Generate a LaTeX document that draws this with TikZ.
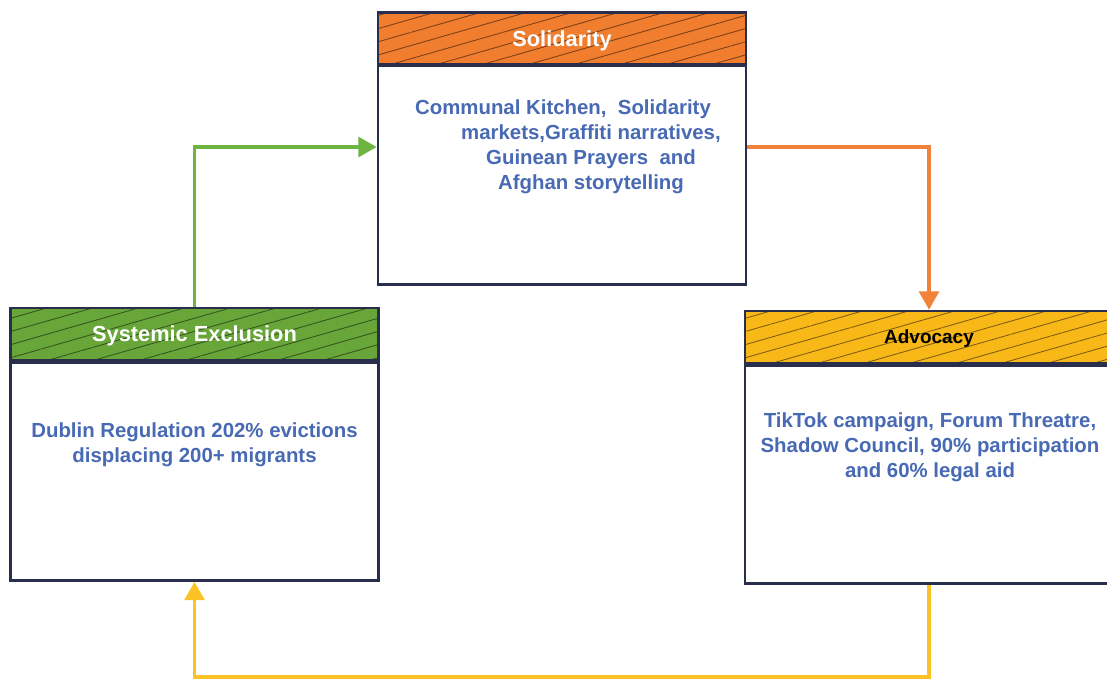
\documentclass[tikz,border=0pt]{standalone}
\usepackage{fontspec}
\setmainfont{Liberation Sans}
\usetikzlibrary{positioning, arrows.meta, patterns.meta, shadows}

\definecolor{boxline}{RGB}{40,46,76}
\definecolor{solorange}{RGB}{240,126,46}
\definecolor{exclgreen}{RGB}{104,166,58}
\definecolor{advyellow}{RGB}{248,184,24}
\definecolor{textblue}{RGB}{72,106,180}
\definecolor{greenlink}{RGB}{110,180,64}
\definecolor{orangelink}{RGB}{240,130,58}
\definecolor{yellowlink}{RGB}{250,194,36}

\tikzset{
    headbox/.style = {draw = boxline, line width = 1.8pt, minimum width = 9.2cm, minimum height = 1.3cm,
        inner sep = 0pt, text depth = 0pt, font = \bfseries\fontsize{15.5}{18}\selectfont},
    hatch/.style = {preaction = {fill = #1}, pattern = {Lines[angle = 16, distance = 9pt, line width = 0.6pt]},
        pattern color = #1!50!black},
    bodybox/.style = {draw = boxline, line width = 1.8pt, fill = white, minimum width = 9.2cm,
        minimum height = 5.45cm, drop shadow = {opacity = 0.2, shadow xshift = 0.6pt, shadow yshift = -1.2pt}},
    bodytext/.style = {text = textblue, align = center, font = \bfseries\fontsize{14.5}{17.7}\selectfont},
    link/.style = {draw = #1, line width = 2.6pt, -{Triangle[width = 14pt, length = 13pt]}}
}

\begin{document}
\begin{tikzpicture}[x = 0.025cm, y = -0.025cm]
    \useasboundingbox (0, 0) rectangle (1107, 690);

    % top: solidarity
    \node[headbox, hatch = solorange, text = white] (solH) at (562, 38.5) {Solidarity};
    \node[bodybox, below = 0pt of solH] (solB) {};
    \node[bodytext] (solT) at (591, 147) {Communal Kitchen,\ \ Solidarity\hspace*{1.4cm}\\
        markets,Graffiti narratives,\\ Guinean Prayers\ \ and\\ Afghan storytelling};

    % left: systemic exclusion
    \node[headbox, hatch = exclgreen, text = white] (exclH) at (194.5, 334) {Systemic Exclusion};
    \node[bodybox, below = 0pt of exclH] (exclB) {};
    \node[bodytext] (exclT) at (194.5, 444.5) {Dublin Regulation 202\% evictions\\ displacing 200+ migrants};

    % right: advocacy
    \node[headbox, hatch = advyellow, text = black, font = \bfseries\fontsize{13.5}{16}\selectfont] (advH) at (929, 337) {Advocacy};
    \node[bodybox, below = 0pt of advH] (advB) {};
    \node[bodytext] (advT) at (930, 447) {TikTok campaign, Forum Threatre,\\
        Shadow Council, 90\% participation\\ and 60\% legal aid};

    % cycle
    \coordinate (loop) at (0, 677);
    \draw[link = greenlink] (exclH.north) |- (solB.west |- solT);
    \draw[link = orangelink] (solB.east |- solT) -| (advH.north);
    \draw[link = yellowlink] (advB.south) |- (loop -| exclB.south) -- (exclB.south);
\end{tikzpicture}
\end{document}
